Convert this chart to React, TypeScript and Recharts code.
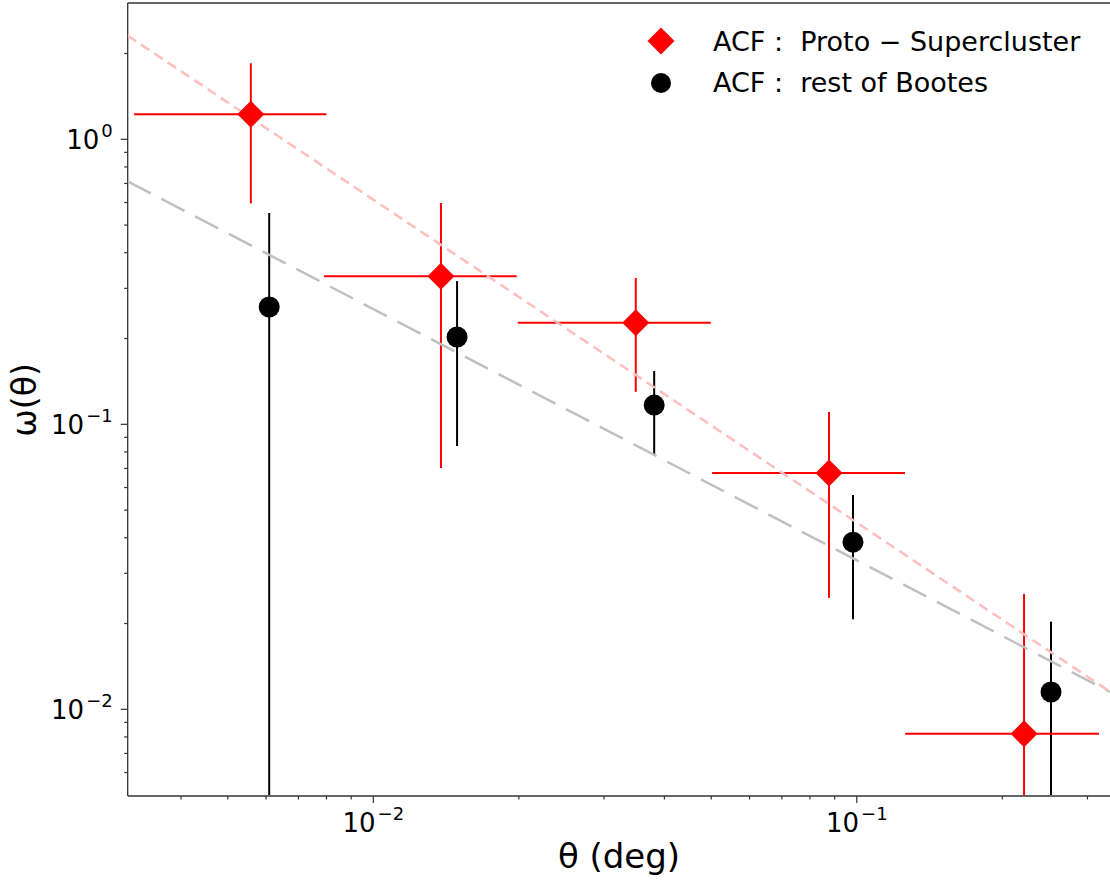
import { ScatterChart, Scatter, XAxis, YAxis, ErrorBar, ReferenceLine, Legend } from 'recharts'

// ACF: Proto-Supercluster
const protoTheta = [0.00558, 0.0138, 0.0349, 0.0876, 0.2218]
const protoThetaLo = [0.0032, 0.0079, 0.0199, 0.0502, 0.1259]
const protoThetaHi = [0.008, 0.0198, 0.0499, 0.1258, 0.317]
const protoW = [1.224, 0.331, 0.227, 0.0675, 0.0082]
const protoWLo = [0.596, 0.0703, 0.13, 0.0246, 0.005]
const protoWHi = [1.848, 0.598, 0.326, 0.1105, 0.0254]

// ACF: rest of Bootes
const bootesTheta = [0.00609, 0.0149, 0.0381, 0.0982, 0.2522]
const bootesW = [0.258, 0.2024, 0.1168, 0.0386, 0.0115]
const bootesWLo = [0.005, 0.0839, 0.078, 0.0207, 0.005]
const bootesWHi = [0.551, 0.318, 0.1538, 0.0565, 0.0203]

// power-law fits (end points)
const fitTheta = [0.003104, 0.334]
const protoFitW = [2.31, 0.01153]
const bootesFitW = [0.712, 0.01151]

const xMajor = [0.01, 0.1]
const xMinor = [0.004, 0.005, 0.006, 0.007, 0.008, 0.009, 0.02, 0.03, 0.04, 0.05, 0.06, 0.07, 0.08, 0.09, 0.2, 0.3]
const yMajor = [0.01, 0.1, 1]
const yMinor = [0.006, 0.007, 0.008, 0.009, 0.02, 0.03, 0.04, 0.05, 0.06, 0.07, 0.08, 0.09,
  0.2, 0.3, 0.4, 0.5, 0.6, 0.7, 0.8, 0.9, 2]

const X_DOMAIN = [0.003104, 0.334]
const Y_DOMAIN = [0.004964, 3.008]

const FONT = 'DejaVu Sans'
const AXIS = '#333'

const protoData = protoTheta.map((t, i) => ({
  theta: t,
  w: protoW[i],
  ex: [t - protoThetaLo[i], protoThetaHi[i] - t],
  ey: [protoW[i] - protoWLo[i], protoWHi[i] - protoW[i]],
}))

const bootesData = bootesTheta.map((t, i) => ({
  theta: t,
  w: bootesW[i],
  ey: [bootesW[i] - bootesWLo[i], bootesWHi[i] - bootesW[i]],
}))

const protoFit = fitTheta.map((t, i) => ({ theta: t, w: protoFitW[i] }))
const bootesFit = fitTheta.map((t, i) => ({ theta: t, w: bootesFitW[i] }))

const expLabel = (v: number) => {
  const e = Math.round(Math.log10(v))
  return e < 0 ? '\u2212' + Math.abs(e) : String(e)
}

function XTick({ x, y, payload }: any) {
  const v = payload.value
  const major = xMajor.includes(v)
  return (
    <g>
      <line x1={x} x2={x} y1={y} y2={y + (major ? 7 : 3.5)} stroke={AXIS} strokeWidth={1.2} />
      {major && (
        <text x={x} y={y + 36} textAnchor='middle' fontFamily={FONT} fontSize={26} fill='#000'>
          10<tspan dx={2} dy={-12} fontSize={18}>{expLabel(v)}</tspan>
        </text>
      )}
    </g>
  )
}

function YTick({ x, y, payload }: any) {
  const v = payload.value
  const major = yMajor.includes(v)
  return (
    <g>
      <line x1={x} x2={x - (major ? 7 : 3.5)} y1={y} y2={y} stroke={AXIS} strokeWidth={1.2} />
      {major && (
        <text x={x - 15} y={y + 10} textAnchor='end' fontFamily={FONT} fontSize={26} fill='#000'>
          10<tspan dx={2} dy={-12} fontSize={18}>{expLabel(v)}</tspan>
        </text>
      )}
    </g>
  )
}

const Diamond = ({ cx, cy }: any) => (
  <polygon points={`${cx},${cy - 13.5} ${cx + 13.5},${cy} ${cx},${cy + 13.5} ${cx - 13.5},${cy}`} fill='#ff0000' />
)
const Dot = ({ cx, cy }: any) => <circle cx={cx} cy={cy} r={10.5} fill='#000' />

const XTitle = () => (
  <text x={619} y={868} textAnchor='middle' fontFamily={FONT} fontSize={34} fill='#000'>θ (deg)</text>
)
const YTitle = () => (
  <text x={36} y={400} transform='rotate(-90 36 400)' textAnchor='middle' fontFamily={FONT} fontSize={33} fill='#000'>
    ω(θ)
  </text>
)

const LegendBox = () => (
  <svg width={470} height={95} style={{ display: 'block' }}>
    <polygon points='31,12.5 44.5,26 31,39.5 17.5,26' fill='#ff0000' />
    <text x={83} y={36} fontFamily={FONT} fontSize={27} fill='#000' style={{ whiteSpace: 'pre' }}>
      {'ACF :  Proto \u2212 Supercluster'}
    </text>
    <circle cx={31} cy={68} r={10} fill='#000' />
    <text x={83} y={77} fontFamily={FONT} fontSize={27} fill='#000' style={{ whiteSpace: 'pre' }}>
      {'ACF :  rest of Bootes'}
    </text>
  </svg>
)

export default function App() {
  return (
    <div style={{ position: 'absolute', left: 0, top: 0, width: 1110, height: 882, overflow: 'hidden', background: '#fff' }}>
      <ScatterChart width={1110} height={882} margin={{ top: 3, right: 0, bottom: 0, left: 0 }}>
        <XAxis
          type='number'
          dataKey='theta'
          scale='log'
          domain={X_DOMAIN}
          allowDataOverflow
          ticks={[...xMajor, ...xMinor]}
          interval={0}
          tick={<XTick />}
          tickLine={false}
          tickSize={0}
          tickMargin={0}
          height={86}
          axisLine={{ stroke: AXIS, strokeWidth: 1.3 }}
          label={<XTitle />}
        />
        <YAxis
          type='number'
          dataKey='w'
          scale='log'
          domain={Y_DOMAIN}
          allowDataOverflow
          ticks={[...yMajor, ...yMinor]}
          interval={0}
          tick={<YTick />}
          tickLine={false}
          tickSize={0}
          tickMargin={0}
          width={127.7}
          axisLine={{ stroke: AXIS, strokeWidth: 1.3 }}
          label={<YTitle />}
        />
        <ReferenceLine y={Y_DOMAIN[1]} ifOverflow='visible' stroke={AXIS} strokeWidth={1.3} />
        <Scatter
          data={bootesFit}
          dataKey='w'
          fill='none'
          line={{ stroke: '#c0c0c0', strokeWidth: 2.5, strokeDasharray: '26 12' }}
          shape={() => null}
          isAnimationActive={false}
        />
        <Scatter
          data={protoFit}
          dataKey='w'
          fill='none'
          line={{ stroke: '#ffbdbd', strokeWidth: 2.5, strokeDasharray: '10 6' }}
          shape={() => null}
          isAnimationActive={false}
        />
        <Scatter data={bootesData} dataKey='w' shape={<Dot />} isAnimationActive={false}>
          <ErrorBar dataKey='ey' direction='y' width={0} stroke='#000' strokeWidth={2} />
        </Scatter>
        <Scatter data={protoData} dataKey='w' shape={<Diamond />} isAnimationActive={false}>
          <ErrorBar dataKey='ex' direction='x' width={0} stroke='#ff0000' strokeWidth={2} />
          <ErrorBar dataKey='ey' direction='y' width={0} stroke='#ff0000' strokeWidth={2} />
        </Scatter>
        <Legend
          layout='vertical'
          align='center'
          verticalAlign='middle'
          wrapperStyle={{ left: 630, top: 15, width: 470 }}
          content={<LegendBox />}
        />
      </ScatterChart>
    </div>
  )
}
